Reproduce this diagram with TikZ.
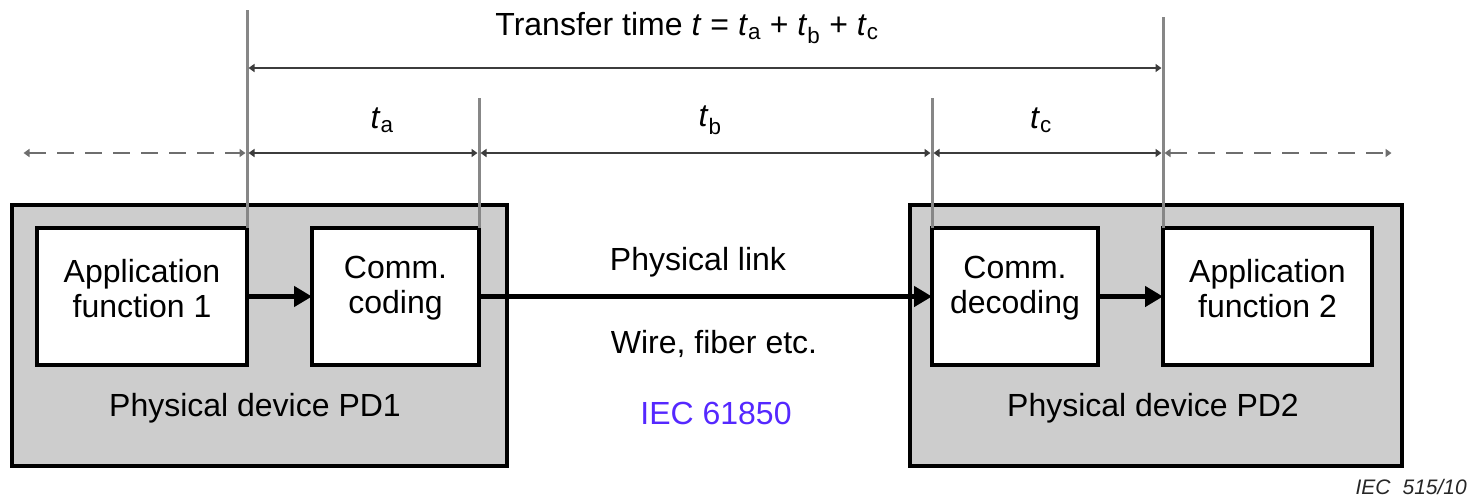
\documentclass[tikz,border=0pt]{standalone}
\usepackage{fontspec}
\setmainfont{Liberation Sans}
\usetikzlibrary{arrows.meta}
\definecolor{pdgray}{RGB}{205,205,205}
\definecolor{dimline}{RGB}{60,60,60}
\definecolor{vline}{RGB}{135,135,135}
\definecolor{dashcol}{RGB}{110,110,110}
\definecolor{iecblue}{RGB}{85,40,255}
\begin{document}
\begin{tikzpicture}[x=1pt,y=-1pt,
  every node/.style={font=\fontsize{32}{35}\selectfont, text=black},
  device/.style={draw=black, line width=4pt, fill=pdgray, inner sep=0pt, outer sep=0pt, minimum height=261pt},
  func/.style={draw=black, line width=3.5pt, fill=white, inner sep=0pt, outer sep=0pt, minimum height=137pt},
  lab/.style={inner sep=0pt, align=center},
  flow/.style={draw=black, line width=4.5pt, -{Triangle[length=18pt,width=20pt]}},
  dimarrow/.style={draw=dimline, line width=2.5pt, {Triangle[length=6pt,width=8pt]}-{Triangle[length=6pt,width=8pt]}, shorten <=1.5pt, shorten >=1.5pt},
  dashdim/.style={dimarrow, draw=dashcol, dash pattern=on 17pt off 11pt},
  guide/.style={draw=vline, line width=3pt}
]
\useasboundingbox (0,0) rectangle (1470,499);

% devices
\node[device, minimum width=495pt] (pd1) at (259.5,335.5) {};
\node[device, minimum width=492pt] (pd2) at (1156,335.5) {};

% function boxes
\node[func, minimum width=210pt] (app1) at (142,296.5) {};
\node[func, minimum width=167pt] (code) at (395.5,296.5) {};
\node[func, minimum width=166pt] (dec) at (1015,296.5) {};
\node[func, minimum width=209pt] (app2) at (1267.5,296.5) {};

\node[lab] (app1txt) at ([yshift=8pt]app1.center) {Application\\function 1};
\node[lab] (codetxt) at ([yshift=8pt]code.center) {Comm.\\coding};
\node[lab] (dectxt) at ([yshift=8pt]dec.center) {Comm.\\decoding};
\node[lab] (app2txt) at ([yshift=8pt]app2.center) {Application\\function 2};

\node[lab] (pd1lab) at (255,408) {Physical device PD1};
\node[lab] (pd2lab) at (1153,408) {Physical device PD2};

% flow arrows
\draw[flow] (app1.east) -- (code.west);
\draw[flow] (code.east) -- (dec.west);
\draw[flow] (dec.east) -- (app2.west);

% link labels
\node[lab] (plink) at (698,262) {Physical link};
\node[lab] (wire) at (714,344) {Wire, fiber etc.};
\node[lab, text=iecblue] (iecstd) at (716,413) {IEC 61850};

% guide lines
\coordinate (g1top) at (app1.north east |- 0,10);
\coordinate (g2top) at (code.north east |- 0,98);
\coordinate (g3top) at (dec.north west |- 0,98);
\coordinate (g4top) at (app2.north west |- 0,17);
\draw[guide] (g1top) -- (app1.north east);
\draw[guide] (g2top) -- (code.north east);
\draw[guide] (g3top) -- (dec.north west);
\draw[guide] (g4top) -- (app2.north west);

% dimension lines
\coordinate (t1) at (app1.north east |- 0,68);
\coordinate (t4) at (app2.north west |- 0,68);
\coordinate (m1) at (app1.north east |- 0,153);
\coordinate (m2) at (code.north east |- 0,153);
\coordinate (m3) at (dec.north west |- 0,153);
\coordinate (m4) at (app2.north west |- 0,153);
\coordinate (mleft) at (22,153);
\coordinate (mright) at (1393,153);

\draw[dimarrow] (t1) -- (t4);
\draw[dimarrow] (m1) -- (m2);
\draw[dimarrow] (m2) -- (m3);
\draw[dimarrow] (m3) -- (m4);
\draw[dashdim] (mleft) -- (m1);
\draw[dashdim] (m4) -- (mright);

% labels
\node[lab] (title) at (687,28) {Transfer time \textit{t} = \textit{t}\textsubscript{a} + \textit{t}\textsubscript{b} + \textit{t}\textsubscript{c}};
\node[lab] (ta) at (382,120) {\textit{t}\textsubscript{a}};
\node[lab] (tb) at (710,120) {\textit{t}\textsubscript{b}};
\node[lab] (tc) at (1041,120) {\textit{t}\textsubscript{c}};

\node[anchor=base east, inner sep=0pt, font=\fontsize{21}{21}\selectfont\itshape, text=black!85] (iecfig) at (1467,494) {IEC\hspace{12pt}515/10};
\end{tikzpicture}
\end{document}
